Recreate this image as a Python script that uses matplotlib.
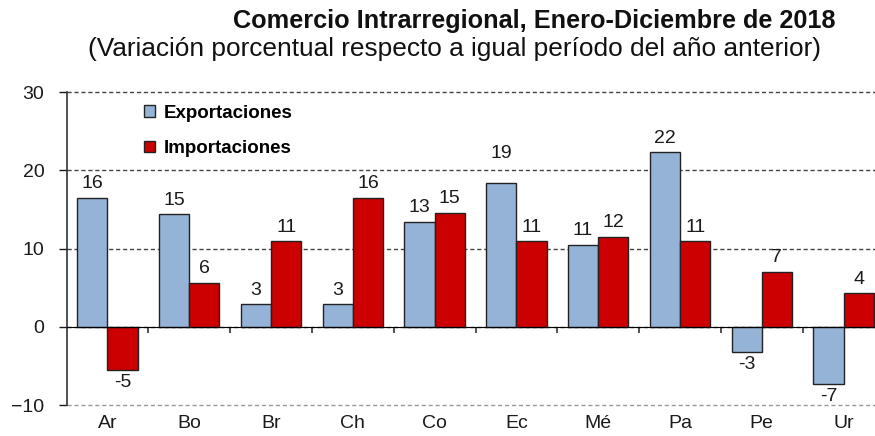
import matplotlib.pyplot as plt
import numpy as np

plt.rcParams["font.family"] = ["Liberation Sans", "DejaVu Sans"]

# Data
countries = ["Ar", "Bo", "Br", "Ch", "Co", "Ec", "Mé", "Pa", "Pe", "Ur"]
exports = [16.5, 14.4, 2.9, 2.9, 13.4, 18.4, 10.5, 22.3, -3.2, -7.3]
imports = [-5.5, 5.6, 10.9, 16.5, 14.6, 10.9, 11.5, 10.9, 7.0, 4.3]
export_labels = ["16", "15", "3", "3", "13", "19", "11", "22", "-3", "-7"]
import_labels = ["-5", "6", "11", "16", "15", "11", "12", "11", "7", "4"]

exp_color = "#95b3d7"
imp_color = "#cc0000"
edge = "#222222"
txt = "#1a1a1a"

fig = plt.figure(figsize=(8.75, 4.36), dpi=100)
ax = fig.add_axes([66.5 / 875, 1 - 405 / 436, 818 / 875, 313 / 436])

x = np.arange(len(countries))
w = 0.37
b1 = ax.bar(x - w / 2, exports, w, color=exp_color, edgecolor=edge, linewidth=1.0,
            label="Exportaciones", zorder=3)
b2 = ax.bar(x + w / 2, imports, w, color=imp_color, edgecolor=edge, linewidth=1.0,
            label="Importaciones", zorder=3)

ax.set_xlim(-0.5, len(countries) - 0.5)
ax.set_ylim(-10, 30)
ax.set_yticks([-10, 0, 10, 20, 30])
ax.yaxis.grid(True, linestyle=(0, (3, 2)), color="#444444", linewidth=1.0, zorder=0)
for gl in ax.get_ygridlines():
    gl.set_clip_on(False)
ax.get_ygridlines()[0].set_color("#999999")
ax.tick_params(axis="y", direction="out", length=6, width=1, pad=10,
               labelsize=14, colors=txt)

# zero line as the bottom spine, ticks at category boundaries
ax.spines["bottom"].set_position(("data", 0))
ax.spines["bottom"].set_zorder(4)
ax.spines["top"].set_visible(False)
ax.spines["right"].set_visible(False)
ax.spines["left"].set_color("#333333")
ax.spines["left"].set_linewidth(1.2)
ax.set_xticks(x[:-1] + 0.5)
ax.set_xticklabels([])
ax.tick_params(axis="x", direction="out", length=4, width=1.2, colors="#333333")

for i, c in enumerate(countries):
    ax.annotate(c, (i, -10), xytext=(0, -7), textcoords="offset points",
                ha="center", va="top", fontsize=14, color=txt)


def label_bars(bars, labels, nudges):
    for bar, lab, nd in zip(bars, labels, nudges):
        h = bar.get_height()
        xc = bar.get_x() + bar.get_width() / 2
        if h >= 0:
            ax.annotate(lab, (xc, h), xytext=(0, 4 + nd), textcoords="offset points",
                        ha="center", va="bottom", fontsize=14, color=txt)
        else:
            ax.annotate(lab, (xc, h), xytext=(0, -3 - nd), textcoords="offset points",
                        ha="center", va="top", fontsize=14, color=txt)


label_bars(b1, export_labels, [0, 0, 0, 0, 0, 11, 0, 0, 0, 0])
label_bars(b2, import_labels, [0] * len(countries))

leg = ax.legend(loc="upper left", bbox_to_anchor=(0.095, 0.96), frameon=False,
                handlelength=0.55, handleheight=0.55, handletextpad=0.5,
                labelspacing=1.0, borderpad=0, borderaxespad=0,
                prop={"weight": "bold", "size": 13.5})

fig.text(534 / 875, 1 - 21 / 436, "Comercio Intrarregional, Enero-Diciembre de 2018",
         ha="center", va="center", fontsize=18.2, fontweight="bold", color="#111111")
fig.text(455 / 875, 1 - 49 / 436,
         "(Variación porcentual respecto a igual período del año anterior)",
         ha="center", va="center", fontsize=18.9, color="#111111")

fig.savefig("out.png", dpi=100)
